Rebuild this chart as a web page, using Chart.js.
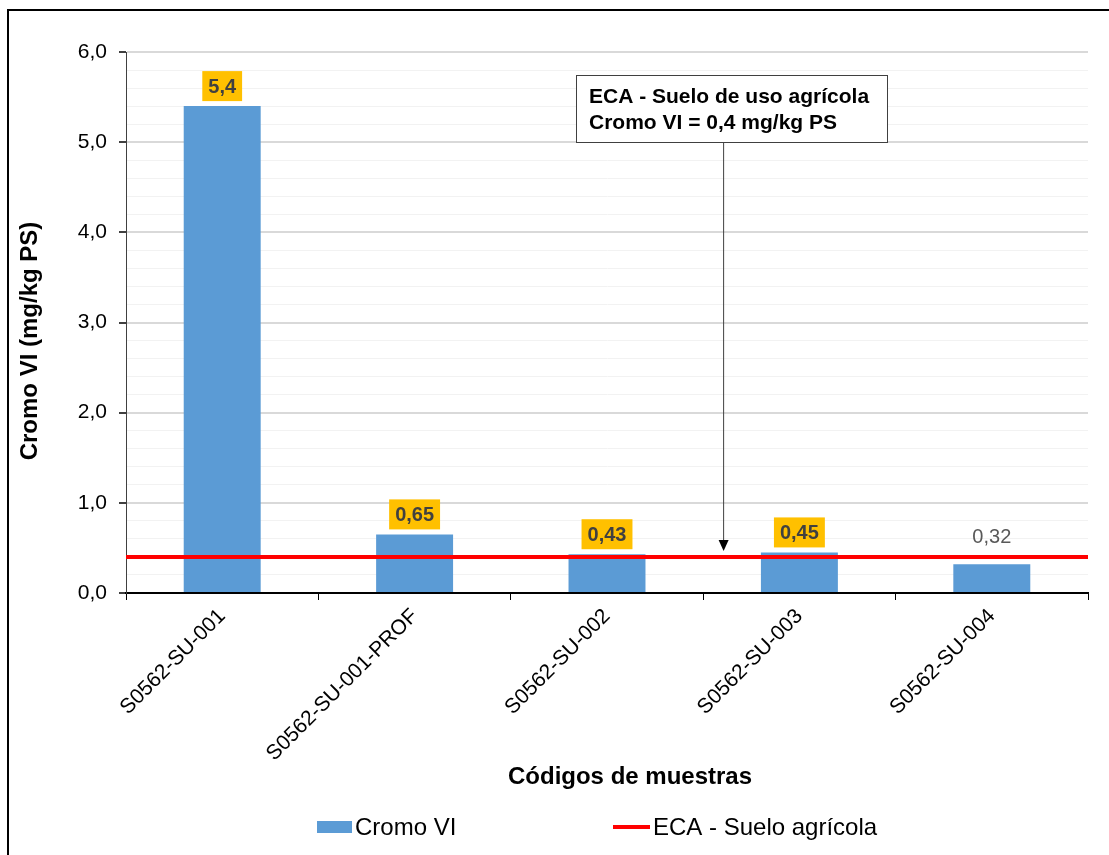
<!DOCTYPE html>
<html>
<head>
<meta charset="utf-8">
<script src="https://cdn.jsdelivr.net/npm/chart.js@4"></script>
<style>
  body { margin: 0; background: #fff; }
  canvas { display: block; }
</style>
</head>
<body>
<canvas id="chromium-chart" width="1109" height="855"></canvas>
<script>
const sampleCodes = [
  "S0562-SU-001",
  "S0562-SU-001-PROF",
  "S0562-SU-002",
  "S0562-SU-003",
  "S0562-SU-004",
];
const cromoValues = [5.4, 0.65, 0.43, 0.45, 0.32];
const ecaLimit = 0.4;
const ecaLineX = [0, 1];
const yTicksMajor = [0, 1, 2, 3, 4, 5, 6];

const FONT = "'Liberation Sans', Arial, sans-serif";
const barColor = "#5B9BD5";
const lineColor = "#FF0000";

function fmt(v) {
  return String(v).replace(".", ",");
}

function isMajor(v) {
  return yTicksMajor.some((m) => Math.abs(m - v) < 1e-6);
}

// Frame, titles, legend, labels and callout
const decorations = {
  id: "decorations",
  beforeDraw(chart) {
    const ctx = chart.ctx;
    ctx.save();
    ctx.fillStyle = "#fff";
    ctx.fillRect(0, 0, chart.width, chart.height);
    ctx.strokeStyle = "#000";
    ctx.lineWidth = 2;
    ctx.beginPath();
    ctx.moveTo(8, chart.height);
    ctx.lineTo(8, 10);
    ctx.lineTo(chart.width, 10);
    ctx.stroke();
    ctx.restore();
  },
  afterDatasetsDraw(chart) {
    const ctx = chart.ctx;
    const area = chart.chartArea;
    const y = chart.scales.y;
    ctx.save();

    // Data labels
    const meta = chart.getDatasetMeta(0);
    meta.data.forEach((bar, i) => {
      const v = cromoValues[i];
      const text = fmt(v);
      if (v > ecaLimit) {
        ctx.font = "bold 20px " + FONT;
        const w = ctx.measureText(text).width + 12;
        const cy = bar.y - 20;
        ctx.fillStyle = "#FFC000";
        ctx.fillRect(bar.x - w / 2, cy - 15, w, 30);
        ctx.fillStyle = "#404040";
        ctx.textAlign = "center";
        ctx.textBaseline = "middle";
        ctx.fillText(text, bar.x, cy + 1);
      } else {
        ctx.font = "20px " + FONT;
        ctx.fillStyle = "#595959";
        ctx.textAlign = "center";
        ctx.textBaseline = "middle";
        ctx.fillText(text, bar.x, bar.y - 27);
      }
    });

    // Callout box and arrow
    const bx = 576, by = 75, bw = 311, bh = 67;
    const ax = area.left + (area.right - area.left) * 0.6207;
    const tipY = y.getPixelForValue(ecaLimit) - 6;
    ctx.strokeStyle = "#404040";
    ctx.lineWidth = 1;
    ctx.beginPath();
    ctx.moveTo(ax + 0.5, by + bh);
    ctx.lineTo(ax + 0.5, tipY - 10);
    ctx.stroke();
    ctx.fillStyle = "#000";
    ctx.beginPath();
    ctx.moveTo(ax + 0.5, tipY);
    ctx.lineTo(ax - 4.5, tipY - 11);
    ctx.lineTo(ax + 5.5, tipY - 11);
    ctx.closePath();
    ctx.fill();
    ctx.fillStyle = "#fff";
    ctx.fillRect(bx, by, bw, bh);
    ctx.strokeRect(bx + 0.5, by + 0.5, bw, bh);
    ctx.fillStyle = "#000";
    ctx.font = "bold 21px " + FONT;
    ctx.textAlign = "left";
    ctx.textBaseline = "alphabetic";
    ctx.fillText("ECA - Suelo de uso agrícola", bx + 13, by + 28);
    ctx.fillText("Cromo VI = " + fmt(ecaLimit) + " mg/kg PS", bx + 13, by + 54);

    ctx.restore();
  },
  afterDraw(chart) {
    const ctx = chart.ctx;
    ctx.save();

    // Axis titles
    ctx.fillStyle = "#000";
    ctx.font = "bold 24px " + FONT;
    ctx.textAlign = "center";
    ctx.textBaseline = "middle";
    ctx.save();
    ctx.translate(30, 341);
    ctx.rotate(-Math.PI / 2);
    ctx.fillText("Cromo VI (mg/kg PS)", 0, 0);
    ctx.restore();
    ctx.fillText("Códigos de muestras", 630, 777);

    // Legend
    const ds = chart.data.datasets;
    ctx.font = "24px " + FONT;
    ctx.textAlign = "left";
    ctx.fillStyle = ds[0].backgroundColor;
    ctx.fillRect(317, 821, 35, 12);
    ctx.fillStyle = "#000";
    ctx.fillText(ds[0].label, 355, 828);
    ctx.strokeStyle = ds[1].borderColor;
    ctx.lineWidth = 4;
    ctx.beginPath();
    ctx.moveTo(613, 827);
    ctx.lineTo(650, 827);
    ctx.stroke();
    ctx.fillText(ds[1].label, 653, 828);

    ctx.restore();
  },
};

const ctx = document.getElementById("chromium-chart");

new Chart(ctx, {
  type: "bar",
  data: {
    labels: sampleCodes,
    datasets: [
      {
        type: "bar",
        label: "Cromo VI",
        data: cromoValues,
        backgroundColor: barColor,
        barPercentage: 0.4,
        categoryPercentage: 1,
        grouped: false,
        order: 1,
      },
      {
        type: "line",
        label: "ECA - Suelo agrícola",
        data: ecaLineX.map((x) => ({ x: x, y: ecaLimit })),
        xAxisID: "x2",
        borderColor: lineColor,
        borderWidth: 4,
        pointRadius: 0,
        order: 0,
      },
    ],
  },
  options: {
    responsive: false,
    animation: false,
    layout: {
      padding: { left: 0, right: 21, top: 52, bottom: 0 },
    },
    scales: {
      x: {
        afterFit(scale) {
          scale.height = 262;
        },
        grid: {
          offset: true,
          drawOnChartArea: false,
          color: "#000",
          tickLength: 7,
        },
        border: { color: "#000", width: 2 },
        ticks: {
          minRotation: 45,
          maxRotation: 45,
          autoSkip: false,
          color: "#000",
          padding: 4,
          font: { family: FONT, size: 21 },
        },
      },
      x2: {
        type: "linear",
        min: 0,
        max: 1,
        offset: false,
        display: false,
      },
      y: {
        min: 0,
        max: 6,
        afterFit(scale) {
          scale.width = 126;
        },
        ticks: {
          stepSize: 0.2,
          autoSkip: false,
          color: "#000",
          padding: 12,
          font: { family: FONT, size: 21 },
          callback: (v) => (isMajor(v) ? v.toFixed(1).replace(".", ",") : ""),
        },
        grid: {
          tickLength: 7,
          color: (c) => (isMajor(c.tick.value) ? "#d9d9d9" : "#f2f2f2"),
          lineWidth: (c) => (isMajor(c.tick.value) ? 2 : 1),
          tickColor: (c) => (isMajor(c.tick.value) ? "#404040" : "rgba(0,0,0,0)"),
        },
        border: { color: "#404040", width: 1 },
      },
    },
    plugins: {
      legend: { display: false },
      tooltip: { enabled: false },
    },
  },
  plugins: [decorations],
});
</script>
</body>
</html>
